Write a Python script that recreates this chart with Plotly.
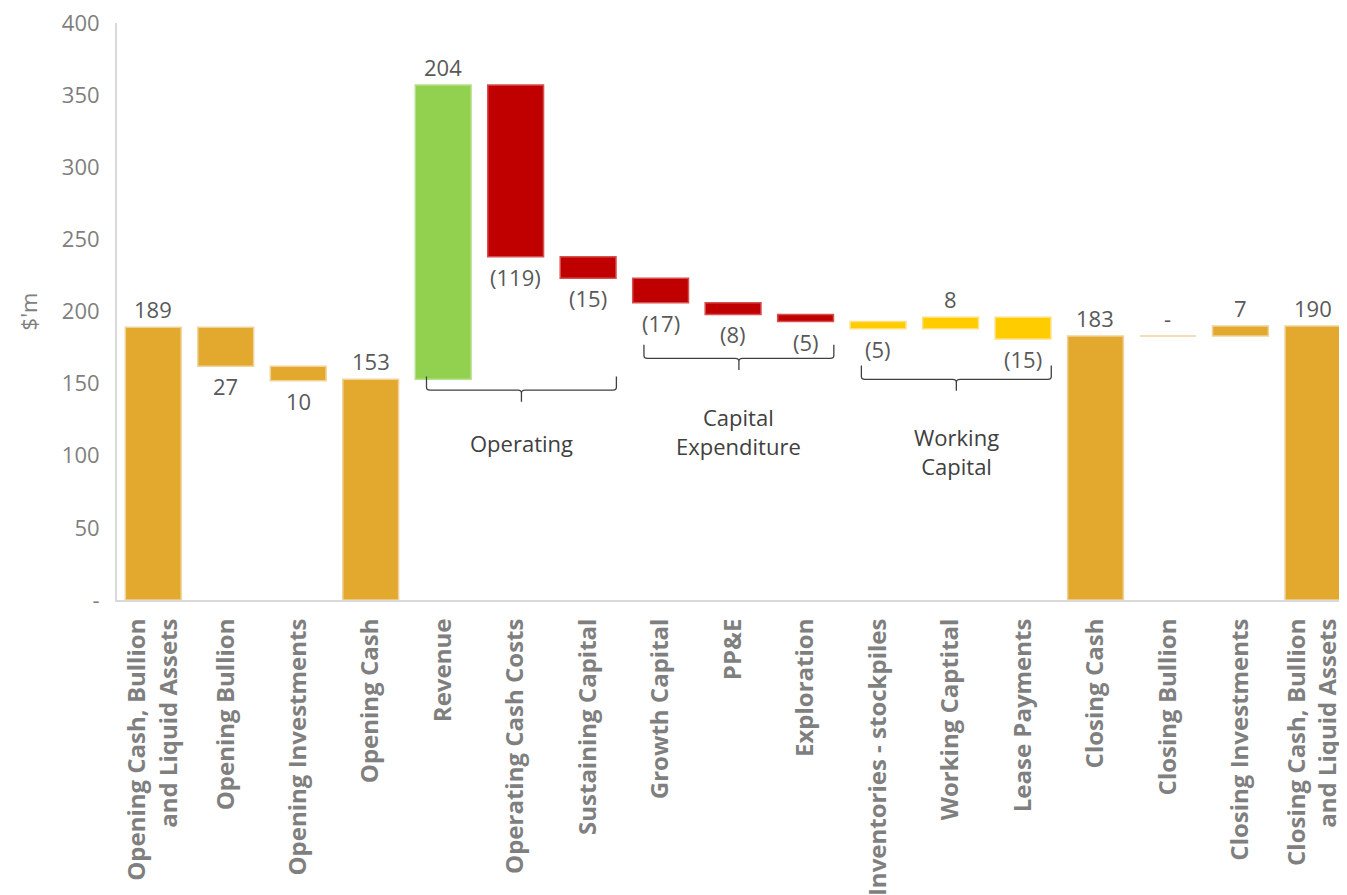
import plotly.graph_objects as go

categories = [
    "Opening Cash, Bullion<br>and Liquid Assets", "Opening Bullion", "Opening Investments",
    "Opening Cash", "Revenue", "Operating Cash Costs", "Sustaining Capital",
    "Growth Capital", "PP&E", "Exploration", "Inventories - stockpiles",
    "Working Captital", "Lease Payments", "Closing Cash", "Closing Bullion",
    "Closing Investments", "Closing Cash, Bullion<br>and Liquid Assets",
]
values = [189, -27, -10, 153, 204, -119, -15, -17, -8, -5, -5, 8, -15, 183, 0, 7, 190]
value_labels = ["189", "27", "10", "153", "204", "(119)", "(15)", "(17)", "(8)", "(5)",
                "(5)", "8", "(15)", "183", "-", "7", "190"]
measures = ["total", "relative", "relative", "total", "relative", "relative", "relative",
            "relative", "relative", "relative", "relative", "relative", "relative",
            "total", "relative", "relative", "total"]
groups = ["balance"] * 4 + ["revenue"] + ["cost"] * 5 + ["working"] * 3 + ["balance"] * 4

y_ticks = [0, 50, 100, 150, 200, 250, 300, 350, 400]
y_tick_labels = ["-", "50", "100", "150", "200", "250", "300", "350", "400"]

bracket_names = ["Operating", "Capital<br>Expenditure", "Working<br>Capital"]
bracket_first = [4, 7, 10]
bracket_last = [6, 9, 12]
bracket_level = [145.5, 167.5, 153]
bracket_label_y = [109, 117, 103]

# style
fill = {"balance": "#E3A92F", "revenue": "#92D050", "cost": "#C00000", "working": "#FFCC00"}
edge = {"balance": "#F0D39A", "revenue": "#B5E08A", "cost": "#D65050", "working": "#FFE080"}
gray = "#7F7F7F"
label_gray = "#595959"
dark = "#404040"
FONT = "Open Sans"

xs = list(range(len(categories)))
bases, heights = [], []
running = 0
for v, m in zip(values, measures):
    if m == "total":
        bases.append(0)
        heights.append(v)
        running = v
    else:
        bases.append(running)
        heights.append(v)
        running += v

fig = go.Figure()
fig.add_trace(go.Bar(
    x=xs, y=heights, base=bases, width=0.77,
    marker=dict(color=[fill[g] for g in groups],
                line=dict(color=[edge[g] for g in groups], width=1.5)),
    hoverinfo="skip", showlegend=False,
))

annotations = []
for x, b, h, v, t in zip(xs, bases, heights, values, value_labels):
    if v < 0:
        annotations.append(dict(x=x, y=b + h, xref="x", yref="y", text=t, showarrow=False,
                                yanchor="top", yshift=-3,
                                font=dict(family=FONT, size=22, color=label_gray)))
    else:
        annotations.append(dict(x=x, y=b + h, xref="x", yref="y", text=t, showarrow=False,
                                yanchor="bottom", yshift=1,
                                font=dict(family=FONT, size=22, color=label_gray)))

shapes = []
rx, ry, depth, rise = 0.05, 2.0, 8.0, 9.5
for name, a, b, lvl, ly in zip(bracket_names, bracket_first, bracket_last, bracket_level, bracket_label_y):
    x0 = a - 0.23
    x1 = b + 0.39
    xc = (x0 + x1) / 2
    yt = lvl + rise
    p = (f"M {x0},{yt} L {x0},{lvl + ry} Q {x0},{lvl} {x0 + rx},{lvl} "
         f"L {xc - rx},{lvl} Q {xc},{lvl} {xc},{lvl - ry} L {xc},{lvl - depth} "
         f"M {xc},{lvl - ry} Q {xc},{lvl} {xc + rx},{lvl} "
         f"L {x1 - rx},{lvl} Q {x1},{lvl} {x1},{lvl + ry} L {x1},{yt}")
    shapes.append(dict(type="path", path=p, xref="x", yref="y",
                       line=dict(color=dark, width=1.3)))
    annotations.append(dict(x=xc, y=ly, xref="x", yref="y", text=name, showarrow=False,
                            font=dict(family=FONT, size=22, color=dark),
                            align="center"))

fig.update_layout(
    width=1339, height=887,
    margin=dict(l=109, r=0, t=15, b=295),
    plot_bgcolor="white", paper_bgcolor="white",
    shapes=shapes, annotations=annotations,
    xaxis=dict(
        range=[-0.5, 16.47], tickmode="array", tickvals=xs, ticktext=categories,
        tickangle=-90, showgrid=False, zeroline=False,
        showline=True, linecolor="#D9D9D9", linewidth=2,
        tickfont=dict(family=FONT, size=24, color=gray, weight="bold"),
        ticklabelstandoff=7, automargin=False, ticklabeloverflow="allow",
    ),
    yaxis=dict(
        range=[0, 400], tickmode="array", tickvals=y_ticks, ticktext=y_tick_labels,
        showgrid=False, zeroline=False,
        showline=True, linecolor="#D9D9D9", linewidth=2,
        tickfont=dict(family=FONT, size=22, color=gray),
        ticklabelstandoff=11, automargin=False, ticklabeloverflow="allow",
        title=dict(text="$'m", font=dict(family=FONT, size=22, color=gray), standoff=18),
    ),
)

fig.write_html("out.html")
